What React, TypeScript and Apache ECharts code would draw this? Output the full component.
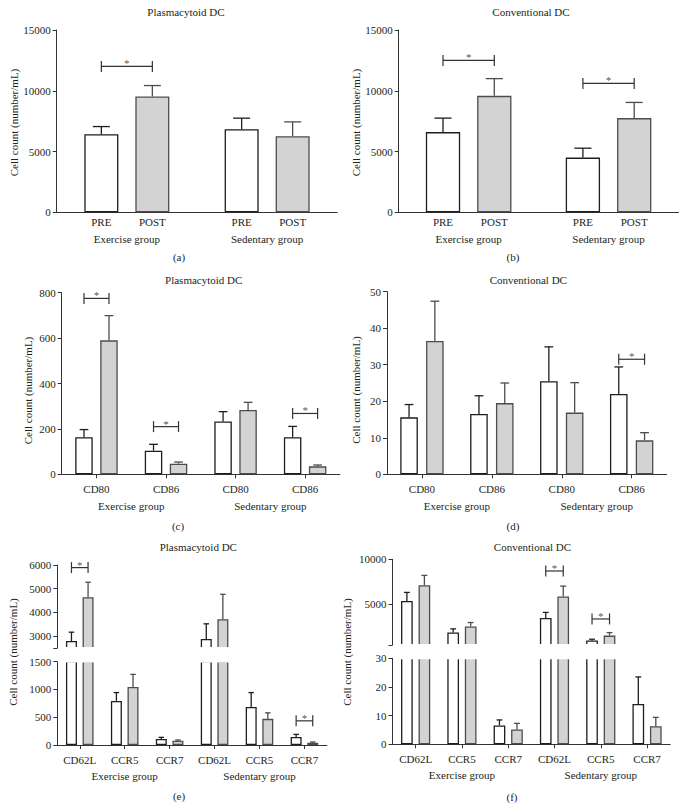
import React, { useEffect, useRef } from 'react';
import * as echarts from 'echarts';

// ---------- data ----------
const groups = ['Exercise group', 'Sedentary group'];
const timeLabels = ['PRE', 'POST'];

// (a) Plasmacytoid DC
const aPre = [6430, 6840];
const aPreSem = [625, 905];
const aPost = [9530, 6260];
const aPostSem = [900, 1180];
const aSig = [[0, 12000]];

// (b) Conventional DC
const bPre = [6600, 4500];
const bPreSem = [1150, 775];
const bPost = [9580, 7750];
const bPostSem = [1420, 1290];
const bSig = [[0, 12500], [1, 10600]];

// (c) Plasmacytoid DC, CD80 / CD86
const markerCats = ['CD80', 'CD86', 'CD80', 'CD86'];
const cPre = [163, 104, 233, 163];
const cPreSem = [34, 28, 43, 48];
const cPost = [590, 47, 283, 35];
const cPostSem = [109, 7, 34, 6];
const cSig = [[0, 775], [1, 210], [3, 268]];

// (d) Conventional DC, CD80 / CD86
const dPre = [15.6, 16.5, 25.5, 22.0];
const dPreSem = [3.5, 5.0, 9.4, 7.4];
const dPost = [36.5, 19.5, 16.9, 9.3];
const dPostSem = [10.9, 5.5, 8.2, 2.1];
const dSig = [[3, 31.5]];

// (e) Plasmacytoid DC, homing markers
const homingCats = ['CD62L', 'CCR5', 'CCR7', 'CD62L', 'CCR5', 'CCR7'];
const ePre = [2795, 794, 108, 2880, 686, 143];
const ePreSem = [372, 150, 30, 640, 258, 48];
const ePost = [4645, 1045, 77, 3715, 471, 41];
const ePostSem = [630, 227, 13, 1050, 108, 13];
const eSig = [[0, 5890], [5, 435]];

// (f) Conventional DC, homing markers
const fPre = [5360, 1880, 6.6, 3470, 990, 14.1];
const fPreSem = [960, 390, 1.9, 630, 130, 9.4];
const fPost = [7120, 2530, 5.2, 5880, 1525, 6.3];
const fPostSem = [1090, 445, 2.1, 1140, 330, 3.1];
const fSig = [[3, 8700], [4, 3370]];

const yName = 'Cell count (number/mL)';
const sigMark = '*';

// ---------- styles ----------
const FONT = '"Liberation Serif", "Times New Roman", serif';
const TXT = '#231f20';
const AX = '#333333';
const PRE_FILL = '#ffffff';
const PRE_EDGE = '#1e1e1e';
const POST_FILL = '#d3d3d3';
const POST_EDGE = '#4d4d4d';
const FS = 11;

function textEl(x: number, y: number, text: string, rotation = 0) {
  return {
    type: 'text',
    x,
    y,
    rotation,
    silent: true,
    style: {
      legacy: false,
      text,
      fill: TXT,
      font: `${FS}px ${FONT}`,
      align: 'center',
      verticalAlign: 'middle',
    },
  };
}

function errItem(offset: number, half: number, color: string, lo: number, hi: number) {
  return (params: any, api: any) => {
    const i = api.value(0);
    const v = api.value(1);
    const s = api.value(2);
    if (v < lo || v > hi) return null;
    const a = api.coord([i, v]);
    const b = api.coord([i, v + s]);
    const x = a[0] + offset;
    const st = { stroke: color, lineWidth: 1.3 };
    return {
      type: 'group',
      children: [
        { type: 'line', shape: { x1: x, y1: a[1], x2: x, y2: b[1] }, style: st },
        { type: 'line', shape: { x1: x - half, y1: b[1], x2: x + half, y2: b[1] }, style: st },
      ],
    };
  };
}

function bracketItem(off: number) {
  return (params: any, api: any) => {
    const p = api.coord([api.value(0), api.value(1)]);
    const x1 = p[0] - off;
    const x2 = p[0] + off;
    const y = p[1];
    const h = 5.5;
    const st = { stroke: AX, lineWidth: 1.2 };
    return {
      type: 'group',
      children: [
        { type: 'line', shape: { x1, y1: y, x2, y2: y }, style: st },
        { type: 'line', shape: { x1, y1: y - h, x2: x1, y2: y + h }, style: st },
        { type: 'line', shape: { x1: x2, y1: y - h, x2, y2: y + h }, style: st },
      ],
    };
  };
}

function buildOption() {
  const grid: any[] = [];
  const xAxis: any[] = [];
  const yAxis: any[] = [];
  const series: any[] = [];
  const graphic: any[] = [];

  const labelStyle = { fontSize: FS, fontFamily: FONT, color: TXT };

  function panel(cfg: any) {
    const { cats, groupAxis, pre, preSem, post, postSem, sig, segs, barW, gapPx, barLabels, catMargin, groupMargin, showXTicks } = cfg;
    const off = (barW + gapPx) / 2;
    const half = barW * 0.25;
    segs.forEach((seg: any, si: number) => {
      const isBottom = si === segs.length - 1;
      const gi = grid.length;
      grid.push({ ...seg.rect, containLabel: false });
      const xi = xAxis.length;
      xAxis.push({
        type: 'category',
        gridIndex: gi,
        data: cats,
        show: isBottom,
        position: 'bottom',
        axisLine: { show: true, lineStyle: { color: AX, width: 1 } },
        axisTick: { show: !!showXTicks, alignWithLabel: true, length: 4, lineStyle: { color: AX } },
        axisLabel: { ...labelStyle, margin: catMargin, interval: 0 },
        splitLine: { show: false },
      });
      if (isBottom && groupAxis) {
        xAxis.push({
          type: 'category',
          gridIndex: gi,
          data: groups,
          position: 'bottom',
          axisLine: { show: false },
          axisTick: { show: false },
          axisLabel: { ...labelStyle, margin: groupMargin, interval: 0 },
          splitLine: { show: false },
        });
      }
      const yi = yAxis.length;
      const y: any = {
        type: 'value',
        gridIndex: gi,
        min: seg.min,
        max: seg.max,
        axisLine: { show: true, lineStyle: { color: AX, width: 1 } },
        axisTick: { show: true, length: 4, lineStyle: { color: AX } },
        axisLabel: { ...labelStyle, margin: 6, formatter: (v: number) => String(v) },
        splitLine: { show: false },
      };
      if (seg.interval) y.interval = seg.interval;
      if (seg.ticks) {
        y.axisTick.customValues = seg.ticks;
        y.axisLabel.customValues = seg.labels;
      }
      yAxis.push(y);

      const lo = segs.length > 1 && si === 0 ? seg.min : -Infinity;
      const hi = segs.length > 1 && si === segs.length - 1 ? seg.max : Infinity;

      const mkLabel = (name: string) =>
        barLabels && isBottom
          ? { show: true, position: 'bottom', distance: 4, formatter: name, ...labelStyle }
          : { show: false };

      series.push({
        type: 'bar',
        name: timeLabels[0],
        xAxisIndex: xi,
        yAxisIndex: yi,
        data: pre,
        barWidth: barW,
        barGap: `${(gapPx / barW) * 100}%`,
        clip: true,
        itemStyle: { color: PRE_FILL, borderColor: PRE_EDGE, borderWidth: 1.3 },
        label: mkLabel(timeLabels[0]),
        z: 2,
      });
      series.push({
        type: 'bar',
        name: timeLabels[1],
        xAxisIndex: xi,
        yAxisIndex: yi,
        data: post,
        barWidth: barW,
        barGap: `${(gapPx / barW) * 100}%`,
        clip: true,
        itemStyle: { color: POST_FILL, borderColor: POST_EDGE, borderWidth: 1.3 },
        label: mkLabel(timeLabels[1]),
        z: 2,
      });
      series.push({
        type: 'custom',
        xAxisIndex: xi,
        yAxisIndex: yi,
        data: pre.map((v: number, i: number) => [i, v, preSem[i]]),
        encode: { x: 0, y: 1 },
        renderItem: errItem(-off, half, PRE_EDGE, lo, hi),
        z: 3,
        silent: true,
      });
      series.push({
        type: 'custom',
        xAxisIndex: xi,
        yAxisIndex: yi,
        data: post.map((v: number, i: number) => [i, v, postSem[i]]),
        encode: { x: 0, y: 1 },
        renderItem: errItem(off, half, POST_EDGE, lo, hi),
        z: 3,
        silent: true,
      });
      const segSig = sig.filter((s: number[]) => s[1] >= seg.min && s[1] <= seg.max * 1.1);
      if (segSig.length) {
        series.push({
          type: 'custom',
          xAxisIndex: xi,
          yAxisIndex: yi,
          data: segSig,
          encode: { x: 0, y: 1 },
          renderItem: bracketItem(off),
          z: 4,
          silent: true,
        });
        series.push({
          type: 'scatter',
          xAxisIndex: xi,
          yAxisIndex: yi,
          data: segSig,
          symbol: 'circle',
          symbolSize: 1,
          itemStyle: { color: 'rgba(0,0,0,0)' },
          label: {
            show: true,
            position: 'inside',
            offset: [0, -3],
            formatter: sigMark,
            fontSize: FS,
            fontFamily: FONT,
            color: TXT,
          },
          z: 5,
          silent: true,
        });
      }
    });
    if (segs.length > 1) {
      const up = segs[0].rect;
      const low = segs[segs.length - 1].rect;
      const yTop = up.top + up.height - 0.9;
      graphic.push({
        type: 'rect',
        z: 100,
        silent: true,
        shape: { x: up.left + 1, y: yTop, width: up.width + 2, height: low.top + 0.9 - yTop },
        style: { fill: '#ffffff' },
      });
    }
    graphic.push(textEl(cfg.title[1], cfg.title[2], cfg.title[0]));
    graphic.push(textEl(cfg.letter[1], cfg.letter[2], cfg.letter[0]));
    graphic.push(textEl(cfg.yname[0], cfg.yname[1], yName, Math.PI / 2));
  }

  panel({
    cats: groups, groupAxis: false, pre: aPre, preSem: aPreSem, post: aPost, postSem: aPostSem, sig: aSig,
    segs: [{ rect: { left: 56.7, top: 30, width: 280.6, height: 182.3 }, min: 0, max: 15000, interval: 5000 }],
    barW: 34, gapPx: 17, barLabels: true, catMargin: 21, showXTicks: false,
    title: ['Plasmacytoid DC', 186, 12], letter: ['(a)', 179, 256.7], yname: [14, 122.5],
  });
  panel({
    cats: groups, groupAxis: false, pre: bPre, preSem: bPreSem, post: bPost, postSem: bPostSem, sig: bSig,
    segs: [{ rect: { left: 398.7, top: 30, width: 279.8, height: 182.3 }, min: 0, max: 15000, interval: 5000 }],
    barW: 34.3, gapPx: 17, barLabels: true, catMargin: 21, showXTicks: false,
    title: ['Conventional DC', 531, 12], letter: ['(b)', 513, 256.7], yname: [356, 122.5],
  });
  panel({
    cats: markerCats, groupAxis: true, pre: cPre, preSem: cPreSem, post: cPost, postSem: cPostSem, sig: cSig,
    segs: [{ rect: { left: 61.7, top: 292.7, width: 278.2, height: 181.6 }, min: 0, max: 800, interval: 200 }],
    barW: 17.5, gapPx: 7.5, barLabels: false, catMargin: 9.5, groupMargin: 26, showXTicks: true,
    title: ['Plasmacytoid DC', 203.7, 280], letter: ['(c)', 178, 526], yname: [28.3, 390.5],
  });
  panel({
    cats: markerCats, groupAxis: true, pre: dPre, preSem: dPreSem, post: dPost, postSem: dPostSem, sig: dSig,
    segs: [{ rect: { left: 387, top: 291.7, width: 279.6, height: 182.6 }, min: 0, max: 50, interval: 10 }],
    barW: 17.6, gapPx: 8.2, barLabels: false, catMargin: 9.5, groupMargin: 26, showXTicks: true,
    title: ['Conventional DC', 528.3, 280], letter: ['(d)', 513, 526], yname: [356, 390],
  });
  panel({
    cats: homingCats, groupAxis: true, pre: ePre, preSem: ePreSem, post: ePost, postSem: ePostSem, sig: eSig,
    segs: [
      { rect: { left: 57.3, top: 565, width: 269.6, height: 83 }, min: 2500, max: 6000, ticks: [2500, 3000, 4000, 5000, 6000], labels: [3000, 4000, 5000, 6000] },
      { rect: { left: 57.3, top: 661.7, width: 269.6, height: 83.3 }, min: 0, max: 1500, interval: 500 },
    ],
    barW: 11, gapPx: 5.6, barLabels: false, catMargin: 9, groupMargin: 25.5, showXTicks: true,
    title: ['Plasmacytoid DC', 198.3, 546.7], letter: ['(e)', 179, 796], yname: [13.3, 652],
  });
  panel({
    cats: homingCats, groupAxis: true, pre: fPre, preSem: fPreSem, post: fPost, postSem: fPostSem, sig: fSig,
    segs: [
      { rect: { left: 392.5, top: 559.3, width: 277.7, height: 85.5 }, min: 500, max: 10000, ticks: [500, 5000, 10000], labels: [5000, 10000] },
      { rect: { left: 392.5, top: 658.3, width: 277.7, height: 86 }, min: 0, max: 30, interval: 10 },
    ],
    barW: 11.7, gapPx: 5.8, barLabels: false, catMargin: 9, groupMargin: 25.5, showXTicks: true,
    title: ['Conventional DC', 532.5, 546.7], letter: ['(f)', 512, 796.7], yname: [347, 652],
  });

  return {
    animation: false,
    backgroundColor: '#ffffff',
    textStyle: { fontFamily: FONT, color: TXT },
    grid,
    xAxis,
    yAxis,
    series,
    graphic,
  };
}

export default function App() {
  const ref = useRef<HTMLDivElement>(null);
  useEffect(() => {
    if (!ref.current) return;
    const chart = echarts.init(ref.current, undefined, { renderer: 'svg' });
    chart.setOption(buildOption() as any);
    return () => chart.dispose();
  }, []);
  return (
    <div
      ref={ref}
      style={{ position: 'fixed', left: 0, top: 0, width: 684, height: 808, background: '#ffffff' }}
    />
  );
}
